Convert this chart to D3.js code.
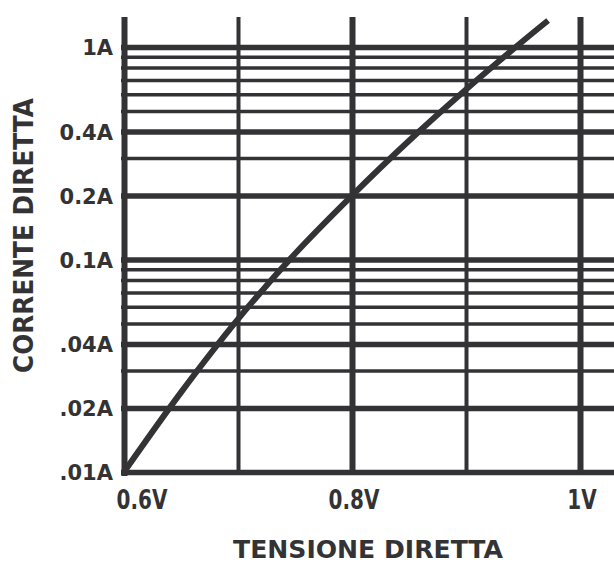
<!DOCTYPE html>
<html>
<head>
<meta charset="utf-8">
<script src="https://cdn.jsdelivr.net/npm/d3@7"></script>
<style>
  html, body { margin: 0; padding: 0; background: #fff; }
  svg { display: block; }
</style>
</head>
<body>
<svg id="chart" width="614" height="563"></svg>
<script>
// ---- data ----
const voltage = [0.600, 0.650, 0.700, 0.750, 0.800, 0.850, 0.900, 0.950, 0.972];
const current = [0.0100, 0.0237, 0.0524, 0.1065, 0.200, 0.362, 0.631, 1.067, 1.333];

const yMajor = [0.01, 0.02, 0.04, 0.1, 0.2, 0.4, 1];
const yMinor = [0.03, 0.05, 0.06, 0.07, 0.08, 0.09, 0.3, 0.5, 0.6, 0.7, 0.8, 0.9];
const yLabels = [".01A", ".02A", ".04A", "0.1A", "0.2A", "0.4A", "1A"];
const xMajor = [0.6, 0.8, 1.0];
const xMinor = [0.7, 0.9];
const xLabels = ["0.6V", "0.8V", "1V"];
const xTitle = "TENSIONE DIRETTA";
const yTitle = "CORRENTE DIRETTA";

// ---- scales ----
const ink = "#333336";
const svg = d3.select("#chart");
const x = d3.scaleLinear().domain([0.6, 1.0]).range([124, 580]);
const y = d3.scaleLog().domain([0.01, 1]).range([472, 47]);
const xEnd = 614;
const yTop = 17;

const g = svg.append("g");

// horizontal grid via axis
function hGrid(values, width) {
  const ax = d3.axisRight(y).tickValues(values).tickSize(xEnd - 121).tickFormat("");
  const a = g.append("g").attr("transform", "translate(121,0)").call(ax);
  a.select(".domain").remove();
  a.selectAll(".tick line").attr("stroke", ink).attr("stroke-width", width);
}
hGrid(yMinor, 3.5);
hGrid(yMajor, 5.5);

// vertical grid via axis
function vGrid(values, width, extra) {
  const base = y(0.01) + extra;
  const ax = d3.axisTop(x).tickValues(values).tickSize(base - yTop).tickFormat("");
  const a = g.append("g").attr("transform", `translate(0,${base})`).call(ax);
  a.select(".domain").remove();
  a.selectAll(".tick line").attr("stroke", ink).attr("stroke-width", width);
}
vGrid(xMinor, 4, 2);
vGrid(xMajor.slice(1), 6, 2);
vGrid([xMajor[0]], 6, 4);

// curve
const pts = voltage.map((v, i) => [v, current[i]]);
g.append("path")
  .datum(pts)
  .attr("fill", "none")
  .attr("stroke", ink)
  .attr("stroke-width", 6)
  .attr("d", d3.line().x(d => x(d[0])).y(d => y(d[1])).curve(d3.curveCatmullRom.alpha(0.5)));

// y tick labels
g.selectAll("text.ylab")
  .data(yMajor)
  .join("text")
  .attr("class", "ylab")
  .attr("x", 113)
  .attr("y", d => y(d) + 8)
  .attr("text-anchor", "end")
  .attr("font-family", "DejaVu Sans")
  .attr("font-weight", "bold")
  .attr("font-size", 21)
  .attr("fill", ink)
  .text((d, i) => yLabels[i]);

// x tick labels
g.selectAll("text.xlab")
  .data(xMajor)
  .join("text")
  .attr("class", "xlab")
  .attr("text-anchor", "middle")
  .attr("transform", (d, i) => `translate(${x(d) + (i === 0 ? 18 : 2)},509) scale(1,1.3)`)
  .attr("font-family", "DejaVu Sans")
  .attr("font-weight", "bold")
  .attr("font-size", 20)
  .attr("fill", ink)
  .text((d, i) => xLabels[i]);

// axis titles
g.append("text")
  .attr("x", 233)
  .attr("y", 558)
  .attr("textLength", 270)
  .attr("lengthAdjust", "spacingAndGlyphs")
  .attr("font-family", "DejaVu Sans")
  .attr("font-weight", "bold")
  .attr("font-size", 24)
  .attr("fill", ink)
  .text(xTitle);

g.append("text")
  .attr("transform", "translate(33,373) rotate(-90)")
  .attr("textLength", 275)
  .attr("lengthAdjust", "spacingAndGlyphs")
  .attr("font-family", "DejaVu Sans")
  .attr("font-weight", "bold")
  .attr("font-size", 26)
  .attr("fill", ink)
  .text(yTitle);
</script>
</body>
</html>
